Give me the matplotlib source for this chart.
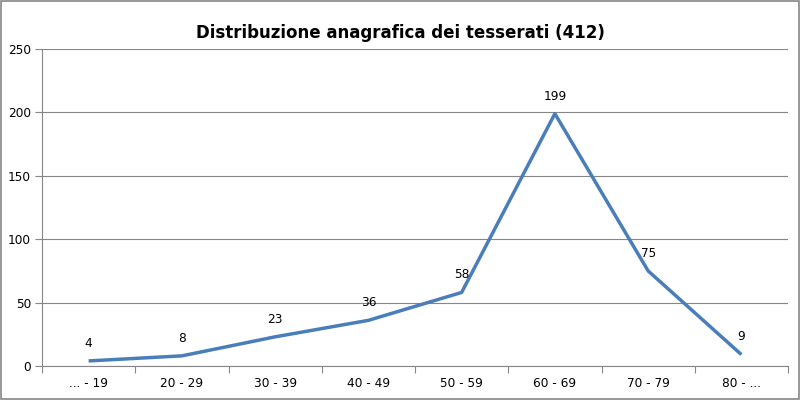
import matplotlib
matplotlib.use("Agg")
import matplotlib.pyplot as plt
from matplotlib.patches import Rectangle

categories = ["... - 19", "20 - 29", "30 - 39", "40 - 49", "50 - 59", "60 - 69", "70 - 79", "80 - ..."]
values = [4, 8, 23, 36, 58, 199, 75, 9]
yticks = [0, 50, 100, 150, 200, 250]

fig = plt.figure(figsize=(8, 4), dpi=100)
ax = fig.add_axes([0.0525, 0.085, 0.9325, 0.7925])

x = list(range(len(categories)))
ax.plot(x, values, color="#4A7EBB", linewidth=2.5, solid_capstyle="butt")

for xi, v in zip(x, values):
    ax.annotate(str(v), (xi, v), xytext=(0, 8), textcoords="offset points",
                ha="center", va="bottom", fontsize=8.7)

ax.set_xlim(-0.5, len(categories) - 0.5)
ax.set_ylim(0, 250)
ax.set_yticks(yticks)
ax.set_xticks([i + 0.5 for i in range(-1, len(categories))], minor=False)
ax.set_xticklabels([])
ax.set_xticks(x, minor=True)
ax.set_xticklabels(categories, minor=True, fontsize=8.7)
ax.tick_params(axis="x", which="minor", length=0, pad=8)
ax.tick_params(axis="x", which="major", length=5, color="#868686", direction="out")
ax.tick_params(axis="y", length=5, color="#868686", direction="out", labelsize=8.7, pad=3)

ax.grid(axis="y", color="#868686", linewidth=0.8)
ax.set_axisbelow(True)
for s in ["top", "right"]:
    ax.spines[s].set_visible(False)
for s in ["left", "bottom"]:
    ax.spines[s].set_color("#868686")
    ax.spines[s].set_linewidth(0.8)

fig.suptitle("Distribuzione anagrafica dei tesserati (412)", y=0.94, fontsize=12, fontweight="bold")

fig.patches.append(Rectangle((0.001, 0.002), 0.998, 0.996, transform=fig.transFigure,
                             fill=False, edgecolor="#868686", linewidth=1.2))

fig.savefig("out.png", dpi=100)
